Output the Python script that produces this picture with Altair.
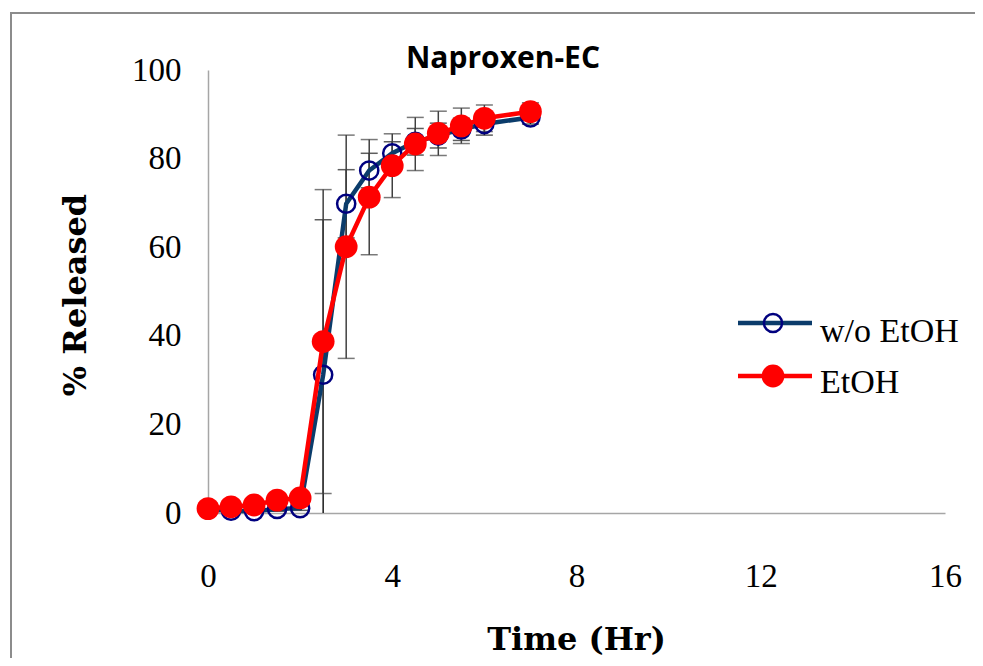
import altair as alt
import pandas as pd

# ---- data ----
time_hr = [0, 0.5, 1, 1.5, 2, 2.5, 3, 3.5, 4, 4.5, 5, 5.5, 6, 7]
wo_etoh = [0.8, 0.5, 0.4, 0.9, 1.1, 31.2, 69.8, 77.3, 81.2, 83.8, 85.2, 86.6, 87.8, 89.3]
wo_etoh_err = [0.3, 0.3, 0.3, 0.5, 0.5, 35.0, 7.7, 3.9, 2.6, 3.0, 2.8, 2.5, 2.5, 1.5]
etoh = [1.0, 1.4, 1.8, 2.9, 3.4, 38.7, 60.1, 71.3, 78.4, 83.3, 85.7, 87.4, 89.1, 90.6]
etoh_err = [0.5, 0.5, 0.5, 0.8, 1.0, 34.3, 25.2, 13.0, 7.2, 6.0, 5.0, 4.0, 3.0, 2.0]
series_names = ["w/o EtOH", "EtOH"]
x_ticks = [0, 4, 8, 12, 16]
y_ticks = [0, 20, 40, 60, 80, 100]

rows = []
for name, vals, errs in [(series_names[0], wo_etoh, wo_etoh_err), (series_names[1], etoh, etoh_err)]:
    for t, v, e in zip(time_hr, vals, errs):
        rows.append({"series": name, "time": t, "value": v, "lo": v - e, "hi": v + e})
df = pd.DataFrame(rows)
df_blue = df[df.series == series_names[0]]
df_red = df[df.series == series_names[1]]

W, H = 737, 443
xs = alt.Scale(domain=[0, 16], nice=False, zero=False)
ys = alt.Scale(domain=[0, 100], nice=False)

x_axis = alt.Axis(values=x_ticks, title="Time (Hr)", grid=False, ticks=False,
                  domainColor="#a6a6a6", domainWidth=1.5, labelFlush=False,
                  labelFont="Liberation Serif", labelFontSize=33, labelColor="black",
                  labelPadding=47, labelBaseline="top",
                  titleFont="DejaVu Serif", titleFontWeight="bold", titleFontSize=32,
                  titleColor="black", titleX=368, titleY=126, titleBaseline="middle",
                  titleAlign="center")
y_axis = alt.Axis(values=y_ticks, title="% Released", grid=False, ticks=False,
                  domainColor="#a6a6a6", domainWidth=1.5, labelFlush=False,
                  labelFont="Liberation Serif", labelFontSize=33, labelColor="black",
                  labelPadding=27,
                  titleFont="DejaVu Serif", titleFontWeight="bold", titleFontSize=32,
                  titleColor="black", titleX=-133, titleY=H / 2 + 3, titleAngle=-90,
                  titleBaseline="middle", titleAlign="center")

base = alt.Chart(df)

border = alt.Chart(pd.DataFrame({"a": [0]})).mark_rect(
    fill=None, stroke="#8c8c8c", strokeWidth=2
).encode(x=alt.value(-197), y=alt.value(-57), x2=alt.value(800), y2=alt.value(640))

axes = base.mark_point(opacity=0).encode(
    x=alt.X("time:Q", scale=xs, axis=x_axis),
    y=alt.Y("value:Q", scale=ys, axis=y_axis),
)

def errbars(d, color):
    c = alt.Chart(d)
    rule = c.mark_rule(color=color, strokeWidth=1.5, clip=True).encode(
        x="time:Q", y="lo:Q", y2="hi:Q")
    cap_hi = c.mark_tick(color=color, thickness=1.5, size=17, orient="horizontal", clip=True).encode(
        x="time:Q", y="hi:Q")
    cap_lo = c.mark_tick(color=color, thickness=1.5, size=17, orient="horizontal", clip=True).encode(
        x="time:Q", y="lo:Q")
    return rule + cap_hi + cap_lo

eb_blue = errbars(df_blue, "#1a1a1a")
eb_red = errbars(df_red, "#404040")

line_blue = alt.Chart(df_blue).mark_line(color="#0b3c6b", strokeWidth=4.5).encode(
    x="time:Q", y="value:Q")
pts_blue = alt.Chart(df_blue).mark_point(shape="circle", size=330, filled=False,
                                          color="#00007f", strokeWidth=2.5, opacity=1).encode(
    x="time:Q", y="value:Q")
line_red = alt.Chart(df_red).mark_line(color="#ff0000", strokeWidth=4.5).encode(
    x="time:Q", y="value:Q")
pts_red = alt.Chart(df_red).mark_point(shape="circle", size=520, filled=True,
                                        color="#ff0000", opacity=1).encode(
    x="time:Q", y="value:Q")

# title
title = alt.Chart(pd.DataFrame({"t": ["Naproxen-EC"]})).mark_text(
    font="Open Sans", fontWeight="bold", fontSize=30, color="black", align="center",
    baseline="alphabetic"
).encode(text="t:N", x=alt.value(295), y=alt.value(-2))

# legend
leg = pd.DataFrame({"name": series_names, "yy": [272, 323]})
leg_blue = leg[leg.name == series_names[0]]
leg_red = leg[leg.name == series_names[1]]
lg_line_b = alt.Chart(leg_blue).mark_rule(color="#0b3c6b", strokeWidth=4.5).encode(
    x=alt.value(530), x2=alt.value(604), y=alt.value(253))
lg_pt_b = alt.Chart(leg_blue).mark_point(shape="circle", size=330, filled=False,
                                          color="#00007f", strokeWidth=2.5, opacity=1).encode(
    x=alt.value(565), y=alt.value(253))
lg_line_r = alt.Chart(leg_red).mark_rule(color="#ff0000", strokeWidth=4.5).encode(
    x=alt.value(530), x2=alt.value(604), y=alt.value(306))
lg_pt_r = alt.Chart(leg_red).mark_point(shape="circle", size=520, filled=True,
                                         color="#ff0000", opacity=1).encode(
    x=alt.value(565), y=alt.value(306))
lg_text = alt.Chart(leg).mark_text(font="Liberation Serif", fontSize=34, color="black",
                                   align="left", baseline="alphabetic").encode(
    text="name:N", x=alt.value(612), y=alt.Y("yy:Q", scale=None))

chart = alt.layer(
    border, axes, eb_blue, eb_red, line_blue, pts_blue, line_red, pts_red, title,
    lg_line_b, lg_pt_b, lg_line_r, lg_pt_r, lg_text
).properties(
    width=W, height=H, background="white",
    autosize=alt.AutoSizeParams(type="none"),
    padding={"left": 200, "top": 62, "right": 30, "bottom": 145},
).configure_view(stroke=None, strokeWidth=0)

chart.save("out.html", embed_options={"renderer": "svg", "actions": False})
